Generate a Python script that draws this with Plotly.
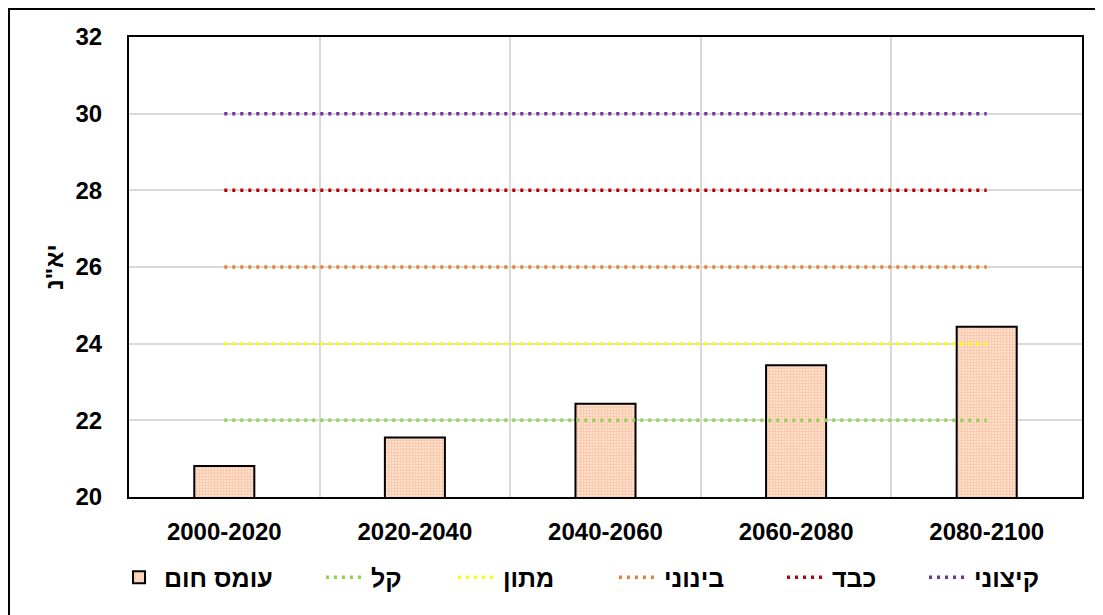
import plotly.graph_objects as go

# תקופות וערכי עומס חום
periods = ['2000-2020', '2020-2040', '2040-2060', '2060-2080', '2080-2100']
heat_load = [20.81, 21.55, 22.43, 23.44, 24.44]

# ספי דרגות עומס
level_names = ['קל', 'מתון', 'בינוני', 'כבד', 'קיצוני']
level_values = [22, 24, 26, 28, 30]
level_colors = ['#92D050', '#FFFF00', '#ED7D31', '#C00000', '#7030A0']

y_ticks = [20, 22, 24, 26, 28, 30, 32]

FONT = 'Liberation Sans'
# מיקום כל פריט מקרא (paper x)
legend_x = [-0.0157, 0.2015, 0.3400, 0.5089, 0.6852, 0.8342]

fig = go.Figure()

fig.add_trace(go.Bar(
    x=periods, y=heat_load, name='עומס חום', legend='legend',
    width=0.315,
    marker=dict(color='white',
                line=dict(color='black', width=2),
                pattern=dict(shape='.', fgcolor='#F4A06A', bgcolor='#FFF1E8',
                             size=3, solidity=0.7)),
))

for i, (name, val, col) in enumerate(zip(level_names, level_values, level_colors)):
    fig.add_trace(go.Scatter(
        x=periods, y=[val] * len(periods), name=name, mode='lines',
        legend='legend%d' % (i + 2),
        line=dict(color=col, width=3.5, dash='3px,5px'),
    ))

fig.update_layout(
    width=1095, height=607,
    paper_bgcolor='white', plot_bgcolor='white',
    margin=dict(l=121, r=21, t=29, b=118),
    font=dict(family=FONT, size=24, color='black'),
    showlegend=True,
)

for i, lx in enumerate(legend_x):
    key = 'legend' if i == 0 else 'legend%d' % (i + 1)
    fig.update_layout({key: dict(orientation='h', x=lx, xanchor='left', y=-0.175, yanchor='middle',
                                 font=dict(family=FONT, size=25, color='black', weight='bold'),
                                 itemwidth=40, bgcolor='rgba(0,0,0,0)')})

fig.update_xaxes(
    type='category', tickson='boundaries', showgrid=True, gridcolor='#D9D9D9', gridwidth=1.5,
    showline=True, linecolor='black', linewidth=2, mirror=True,
    ticks='', ticklabelstandoff=12,
    tickfont=dict(family=FONT, size=24, color='black', weight='bold'),
)
fig.update_yaxes(
    range=[20, 32], tickvals=y_ticks, showgrid=True, gridcolor='#D9D9D9', gridwidth=1.5,
    showline=True, linecolor='black', linewidth=2, mirror=True,
    ticks='', ticklabelstandoff=20, zeroline=False,
    tickfont=dict(family=FONT, size=24, color='black', weight='bold'),
    title=dict(text='יא"נ', standoff=5,
               font=dict(family=FONT, size=24, color='black', weight='bold')),
)

# מסגרת חיצונית
fig.add_shape(type='rect', xref='paper', yref='paper',
              x0=-0.1259, x1=1.2, y0=-0.4, y1=1.0609,
              line=dict(color='black', width=2), layer='below')

fig.write_html('out.html')
